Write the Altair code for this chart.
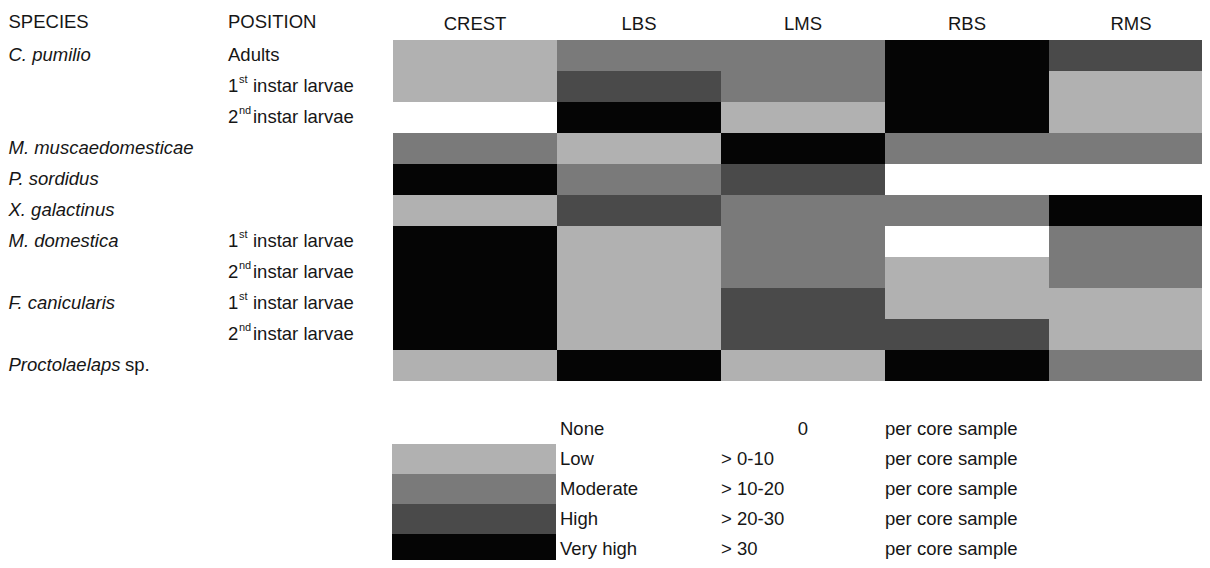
import altair as alt
import pandas as pd

# ---------------- data ----------------
columns = ["CREST", "LBS", "LMS", "RBS", "RMS"]
rows = list(range(11))
species = ["C. pumilio", "", "", "M. muscaedomesticae", "P. sordidus", "X. galactinus",
           "M. domestica", "", "F. canicularis", "", "Proctolaelaps"]
species_suffix = ["", "", "", "", "", "", "", "", "", "", "sp."]
position_base = ["Adults", "1", "2", "", "", "", "1", "2", "1", "2", ""]
position_sup = ["", "st", "nd", "", "", "", "st", "nd", "st", "nd", ""]
position_rest = ["", "instar larvae", "instar larvae", "", "", "", "instar larvae",
                 "instar larvae", "instar larvae", "instar larvae", ""]

levels = ["None", "Low", "Moderate", "High", "Very high"]
level_ranges = ["0", "> 0-10", "> 10-20", "> 20-30", "> 30"]
level_unit = ["per core sample"] * 5
level_colors = ["#ffffff", "#b1b1b1", "#7a7a7a", "#4a4a4a", "#050505"]

crest = ["Low", "Low", "None", "Moderate", "Very high", "Low", "Very high", "Very high", "Very high", "Very high", "Low"]
lbs = ["Moderate", "High", "Very high", "Low", "Moderate", "High", "Low", "Low", "Low", "Low", "Very high"]
lms = ["Moderate", "Moderate", "Low", "Very high", "High", "Moderate", "Moderate", "Moderate", "High", "High", "Low"]
rbs = ["Very high", "Very high", "Very high", "Moderate", "None", "Moderate", "None", "Low", "Low", "High", "Very high"]
rms = ["High", "Low", "Low", "Moderate", "None", "Very high", "Moderate", "Moderate", "Low", "Low", "Moderate"]

# ---------------- tables ----------------
grid_records = []
for col, vals in zip(columns, [crest, lbs, lms, rbs, rms]):
    for r, v in zip(rows, vals):
        grid_records.append({"column": col, "row": r, "level": v})
grid_df = pd.DataFrame(grid_records)

label_df = pd.DataFrame({
    "row": rows, "species": species, "suffix": species_suffix,
    "base": position_base, "sup": position_sup, "rest": position_rest,
})
head_df = pd.DataFrame({"column": columns})
legend_df = pd.DataFrame({"level": levels, "range": level_ranges, "unit": level_unit})

FONT = "Liberation Sans"
FS = 18.5
TXT = "#161616"

xscale = alt.Scale(domain=columns, range=[384, 1206], paddingInner=0, paddingOuter=0, round=True)
yscale = alt.Scale(domain=rows, range=[30.5, 375], paddingInner=0, paddingOuter=0, round=True)
lscale = alt.Scale(domain=levels, range=[405, 557], paddingInner=0, paddingOuter=0, round=True)
cscale = alt.Scale(domain=levels, range=level_colors)

grid = alt.Chart(grid_df).mark_rect(strokeWidth=0).encode(
    x=alt.X("column:N", scale=xscale, axis=None),
    y=alt.Y("row:O", scale=yscale, axis=None),
    color=alt.Color("level:N", scale=cscale, legend=None),
)

def text_mark(**kw):
    base = dict(font=FONT, fontSize=FS, color=TXT, baseline="middle", align="left")
    base.update(kw)
    return base

header = alt.Chart(head_df).mark_text(**text_mark(align="center")).encode(
    x=alt.X("column:N", scale=xscale, axis=None),
    y=alt.value(16),
    text="column:N",
)
left_head = alt.Chart(pd.DataFrame({"t": ["SPECIES"]})).mark_text(**text_mark()).encode(
    x=alt.value(0.5), y=alt.value(14), text="t:N")
pos_head = alt.Chart(pd.DataFrame({"t": ["POSITION"]})).mark_text(**text_mark()).encode(
    x=alt.value(220), y=alt.value(14), text="t:N")

sp_txt = alt.Chart(label_df).mark_text(**text_mark(fontStyle="italic", dy=-1)).encode(
    x=alt.value(0.5), y=alt.Y("row:O", scale=yscale, axis=None), text="species:N")
sp_suf = alt.Chart(label_df).mark_text(**text_mark(dy=-1)).encode(
    x=alt.value(117), y=alt.Y("row:O", scale=yscale, axis=None), text="suffix:N")
pos_base = alt.Chart(label_df).mark_text(**text_mark(dy=-1)).encode(
    x=alt.value(220), y=alt.Y("row:O", scale=yscale, axis=None), text="base:N")
pos_sup = alt.Chart(label_df).mark_text(**text_mark(fontSize=11, dy=-7)).encode(
    x=alt.value(231), y=alt.Y("row:O", scale=yscale, axis=None), text="sup:N")
pos_rest = alt.Chart(label_df).mark_text(**text_mark(dy=-1)).encode(
    x=alt.value(245), y=alt.Y("row:O", scale=yscale, axis=None), text="rest:N")

leg_rect = alt.Chart(legend_df).mark_rect(strokeWidth=0).encode(
    x=alt.value(384), x2=alt.value(548),
    y=alt.Y("level:N", scale=lscale, axis=None),
    color=alt.Color("level:N", scale=cscale, legend=None),
)
leg_name = alt.Chart(legend_df).mark_text(**text_mark()).encode(
    x=alt.value(552), y=alt.Y("level:N", scale=lscale, axis=None), text="level:N")
leg_zero = alt.Chart(legend_df).transform_filter(alt.datum.range == "0").mark_text(
    **text_mark(align="center")).encode(
    x=alt.value(795), y=alt.Y("level:N", scale=lscale, axis=None), text="range:N")
leg_rng = alt.Chart(legend_df).transform_filter(alt.datum.range != "0").mark_text(
    **text_mark()).encode(
    x=alt.value(713), y=alt.Y("level:N", scale=lscale, axis=None), text="range:N")
leg_unit = alt.Chart(legend_df).mark_text(**text_mark()).encode(
    x=alt.value(877), y=alt.Y("level:N", scale=lscale, axis=None), text="unit:N")

chart = alt.layer(
    grid, header, left_head, pos_head, sp_txt, sp_suf, pos_base, pos_sup, pos_rest,
    leg_rect, leg_name, leg_zero, leg_rng, leg_unit,
).resolve_scale(x="independent", y="independent").properties(
    width=1194, height=552, padding=0,
    autosize=alt.AutoSizeParams(type="none"),
    background="#ffffff",
).configure_view(stroke=None)

chart.save("out.html", embed_options={"renderer": "svg", "actions": False})
